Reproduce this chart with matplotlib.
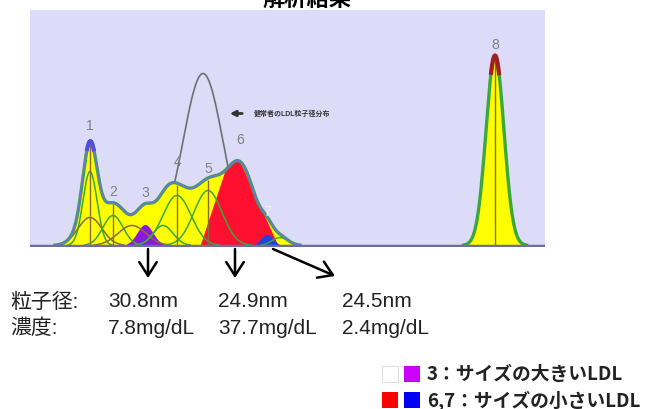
import numpy as np
import matplotlib
matplotlib.use("Agg")
import matplotlib.pyplot as plt
from matplotlib.patches import Rectangle, FancyArrowPatch

plt.rcParams['font.family'] = ['Liberation Sans', 'Noto Sans CJK JP', 'DejaVu Sans']

# 各ピークの位置・高さ・幅
peak_pos = [60, 60, 83, 102, 115, 133, 147, 178, 210, 237, 250, 465]
peak_height = [74, 28, 30, 20, 21, 20, 50, 55, 80, 11, 8, 190]
peak_width = [7, 12, 10, 14, 8, 10, 14, 14, 15, 6, 8, 9]
line_color = ['g', 'b', 'g', 'b', 'g', 'g', 'g', 'g', 'g', 'g', 'g', 'g']
# 健常者の分布(灰色線)
normal_pos, normal_height, normal_width = 173, 172, 20

label_names = ["1", "2", "3", "4", "5", "6", "7", "8"]
label_peak = [0, 2, 4, 6, 7, 8, 9, 11]
label_off = [16, 12, 12, 22, 10, 22, 6, 12]

size_vals = ["30.8nm", "24.9nm", "24.5nm"]
conc_vals = ["7.8mg/dL", "37.7mg/dL", "2.4mg/dL"]
legend_text = ["3：サイズの大きいLDL", "6,7：サイズの小さいLDL"]

x = np.linspace(0, 515, 3000)
def comp(i):
    return peak_height[i]*np.exp(-(x-peak_pos[i])**2/(2*peak_width[i]**2))
comps = [comp(i) for i in range(len(peak_pos))]
env = np.sum(comps, axis=0)
normal = normal_height*np.exp(-(x-normal_pos)**2/(2*normal_width**2))

fig = plt.figure(figsize=(6.54, 4.10), dpi=100)
ax = fig.add_axes([30/654, 1-248/410, 515/654, 237/410])
ax.set_facecolor('#dcdcf8')
ax.set_xlim(0, 515)
ax.set_ylim(-1.5, 235.5)
ax.set_xticks([])
ax.set_yticks([])
for s in ax.spines.values():
    s.set_visible(False)

# 黄色の塗り
ax.fill_between(x, 0, env, where=env > 0.3, color='#ffff00', lw=0)
# 各成分の線
for i, c in enumerate(comps):
    if i in (4, 8, 9):
        continue
    col = '#3aa83a' if line_color[i] == 'g' else '#8a6a3a'
    ax.plot(x, np.where(c > 0.5, c, np.nan), color=col, lw=1.1)
for i in [0, 2, 6, 7, 11]:
    ax.vlines(peak_pos[i], 0, np.interp(peak_pos[i], x, env)*0.97, color='#8a6a3a', lw=1)

# 6 赤, 3 紫, 7 青
red_top = np.minimum(env, np.clip(np.minimum(3*(x-170), 2.2*(248-x)), 0, None))
ax.fill_between(x, 0, red_top, color='#ff1030', lw=0)
ax.fill_between(x, 0, comps[4], where=comps[4] > 0.3, color='#8a18e0', lw=0)
ax.fill_between(x, 0, comps[9], where=comps[9] > 0.3, color='#1a46e0', lw=0)

# 外形線
e = np.where(env > 0.4, env, np.nan)
ax.plot(x, e, color='#3aa83a', lw=2.4)
ax.plot(x, np.where(x < 300, e, np.nan), color='#7272d6', lw=1.2)
ax.plot(x, np.where((env > 96) & (x < 300), env, np.nan), color='#5050e0', lw=3)
ax.plot(x, np.where((env > 172) & (x > 400), env, np.nan), color='#a02020', lw=3)
ax.plot(x, np.where(normal > env + 1, normal, np.nan), color='#707070', lw=1.2)

# ピーク番号
for n, i, off in zip(label_names, label_peak, label_off):
    col = '#f0f0ff' if n == "7" else '#808080'
    ax.text(peak_pos[i], np.interp(peak_pos[i], x, env)+off, n, ha='center', va='center',
            fontsize=10, color=col)

ax.annotate("", xy=(197, 132), xytext=(215, 132),
            arrowprops=dict(arrowstyle='-|>', color='#333333', lw=2, mutation_scale=8))
ax.text(224, 132, "健常者のLDL粒子径分布", fontsize=5, color='#333333', va='center',
        fontweight='bold')

ax.axhline(0, color='#6d6da6', lw=2.5)

# タイトル(上が切れている)
fig.text(307/654, 1.0, "解析結果", ha='center', va='center', fontsize=16,
         fontweight='bold', color='black')

# 矢印
arrow_kw = dict(arrowstyle='->,head_length=0.7,head_width=0.45', color='black', lw=1.8,
                mutation_scale=14, shrinkA=0, shrinkB=0)
fig.add_artist(FancyArrowPatch((148, 160), (148, 131), transform=None, **arrow_kw))
fig.add_artist(FancyArrowPatch((235, 160), (235, 131), transform=None, **arrow_kw))
fig.add_artist(FancyArrowPatch((273, 160), (335, 133), transform=None, **arrow_kw))

fig.text(10/654, 1-302/410, "粒子径:", fontsize=15, va='center', color='#222222')
fig.text(10/654, 1-328/410, "濃度:", fontsize=15, va='center', color='#222222')
for i, xp in enumerate([108, 218, 342]):
    fig.text(xp/654, 1-302/410, size_vals[i], fontsize=15, va='center', color='#222222')
    fig.text(xp/654, 1-328/410, conc_vals[i], fontsize=15, va='center', color='#222222')

# 凡例
sq_cols = [('#ffffff', '#cc00ff'), ('#ff0000', '#0000ff')]
for r, y in enumerate([375, 401]):
    for c, xp in enumerate([382, 404]):
        fig.add_artist(Rectangle((xp/654, (410-y-8)/410), 16/654, 16/410,
                                 transform=fig.transFigure, facecolor=sq_cols[r][c],
                                 edgecolor='#dddddd' if c == 0 and r == 0 else 'none', lw=0.8))
    fig.text(427/654, 1-y/410, legend_text[r], fontsize=13.5, fontweight='bold', va='center',
             color='#222222', family=['Noto Sans CJK JP', 'DejaVu Sans'])

fig.savefig('out.png', dpi=100)
